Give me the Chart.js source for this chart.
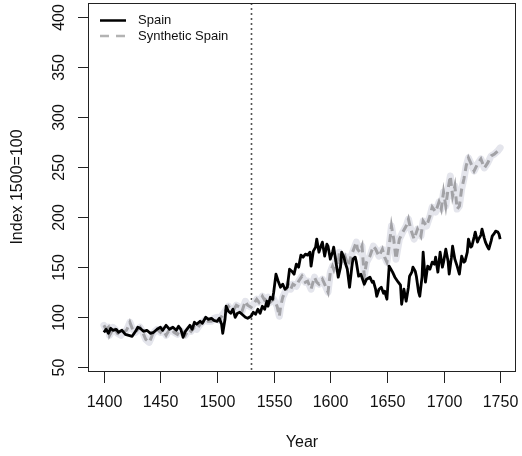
<!DOCTYPE html>
<html>
<head>
<meta charset="utf-8">
<script src="https://cdn.jsdelivr.net/npm/chart.js@4.4.1/dist/chart.umd.min.js"></script>
<style>
  html, body { margin: 0; padding: 0; background: #fff; }
  #wrap { width: 522px; height: 456px; }
</style>
</head>
<body>
<div id="wrap"><canvas id="myChart" width="522" height="456"></canvas></div>
<script>
// values (year, index)
const spainYears = [1400,1402,1404,1406,1408,1411,1413,1416,1419,1422,1425,1428,1430,1432,1435,1438,1441,1444,1447,1450,1452,1455,1458,1461,1464,1466,1468,1470,1472,1474,1476,1478,1480,1482,1485,1487,1490,1492,1495,1497,1500,1502,1504,1505,1507,1508,1510,1512,1514,1516,1518,1520,1522,1525,1527,1530,1532,1534,1536,1538,1540,1542,1544,1545,1547,1549,1550,1552,1554,1556,1558,1560,1562,1564,1566,1568,1570,1572,1574,1576,1578,1580,1582,1583,1585,1587,1588,1590,1592,1593,1595,1597,1598,1600,1602,1603,1605,1607,1609,1610,1612,1613,1615,1617,1619,1620,1622,1623,1625,1627,1630,1632,1635,1637,1638,1640,1641,1643,1645,1647,1648,1650,1652,1654,1655,1657,1660,1662,1663,1665,1667,1669,1670,1672,1673,1675,1676,1678,1679,1681,1682,1684,1686,1688,1690,1692,1693,1695,1697,1699,1700,1702,1704,1705,1707,1708,1710,1712,1714,1716,1718,1719,1721,1722,1724,1725,1727,1728,1730,1731,1733,1734,1736,1737,1739,1740,1742,1743,1745,1746,1748,1749,1750];
const spainValues = [85,88,84,89,87,88,85,87,83,82,81,86,90,89,86,87,84,85,88,90,87,92,88,90,87,91,88,80,86,89,92,88,95,93,96,94,100,98,99,97,96,99,93,84,98,111,106,104,108,100,104,105,103,100,99,101,105,103,108,104,111,108,116,111,120,118,125,143,136,130,133,128,130,148,146,143,153,150,162,160,163,162,165,151,166,170,178,165,172,175,161,173,171,158,165,170,155,140,150,165,160,155,148,130,150,158,160,155,141,143,133,138,140,135,136,128,121,128,130,124,126,118,151,147,145,140,135,132,113,128,116,130,141,145,150,146,141,125,121,140,165,135,151,148,155,153,160,145,165,150,155,168,156,143,160,171,158,151,143,161,155,156,165,178,170,171,180,185,175,178,182,188,179,175,170,168,176,181,184,186,185,183,178];

const synthYears = [1400,1402,1404,1405,1407,1408,1410,1412,1415,1417,1420,1422,1423,1425,1428,1430,1432,1434,1437,1440,1442,1443,1445,1447,1450,1452,1455,1457,1460,1462,1465,1467,1470,1472,1475,1477,1480,1482,1485,1487,1490,1492,1495,1497,1500,1502,1505,1507,1510,1512,1515,1517,1520,1522,1525,1527,1530,1532,1535,1537,1540,1542,1545,1547,1550,1553,1555,1556,1558,1560,1563,1565,1567,1570,1572,1575,1578,1580,1583,1586,1588,1590,1593,1595,1598,1600,1602,1603,1605,1607,1608,1610,1613,1616,1618,1620,1623,1624,1626,1628,1630,1632,1635,1638,1640,1643,1646,1648,1650,1652,1654,1656,1658,1661,1664,1667,1669,1671,1674,1677,1680,1682,1685,1688,1690,1693,1696,1698,1700,1702,1704,1706,1708,1710,1712,1714,1716,1718,1720,1722,1724,1727,1730,1733,1736,1739,1742,1745,1748,1750];
const synthValues = [92,88,90,82,86,90,88,84,82,85,87,92,95,89,85,88,90,86,78,75,80,83,86,88,85,88,82,86,88,85,83,87,85,82,88,86,90,88,93,95,98,96,96,99,100,97,103,106,111,108,108,112,110,106,116,112,110,113,118,115,121,117,120,115,118,111,101,110,120,125,133,128,133,131,136,141,135,136,128,140,135,133,138,133,125,145,151,148,158,152,165,155,161,151,160,166,175,168,165,171,141,155,161,171,168,161,168,160,155,171,191,178,158,178,185,191,198,188,178,188,181,196,191,201,210,205,215,208,225,211,228,241,221,231,208,211,228,238,251,259,254,246,253,258,249,254,261,263,266,269];

const xTicks = [1400,1450,1500,1550,1600,1650,1700,1750];
const yTicks = [50,100,150,200,250,300,350,400];
const treatmentYear = 1530;
const seriesNames = ['Spain', 'Synthetic Spain'];

const FONT = '"Liberation Sans", Arial, Helvetica, sans-serif';

function pairs(xs, ys) {
  return xs.map((x, i) => ({ x: x, y: ys[i] }));
}

// R-style axes, box, reference line and legend drawn with the chart's scales
const rAxes = {
  id: 'rAxes',
  beforeDatasetsDraw(chart) {
    const { ctx, chartArea: a, scales: { x } } = chart;
    const px = Math.round(x.getPixelForValue(treatmentYear)) + 0.5;
    ctx.save();
    ctx.strokeStyle = '#555';
    ctx.lineWidth = 1.6;
    ctx.setLineDash([2, 3]);
    ctx.beginPath();
    ctx.moveTo(px, a.top);
    ctx.lineTo(px, a.bottom);
    ctx.stroke();
    ctx.restore();
  },
  afterDraw(chart) {
    const { ctx, chartArea: a, scales: { x, y } } = chart;
    ctx.save();
    ctx.strokeStyle = '#222';
    ctx.lineWidth = 1;
    ctx.strokeRect(a.left + 0.5, a.top + 0.5, a.right - a.left - 1, a.bottom - a.top);

    ctx.fillStyle = '#111';
    ctx.font = '16px ' + FONT;

    // x axis
    ctx.textAlign = 'center';
    ctx.textBaseline = 'middle';
    xTicks.forEach(t => {
      const px = Math.round(x.getPixelForValue(t)) + 0.5;
      ctx.beginPath();
      ctx.moveTo(px, a.bottom);
      ctx.lineTo(px, a.bottom + 12);
      ctx.stroke();
      ctx.fillText(String(t), px, a.bottom + 32);
    });
    ctx.fillText('Year', (a.left + a.right) / 2, a.bottom + 72);

    // y axis
    yTicks.forEach(t => {
      const py = Math.round(y.getPixelForValue(t)) + 0.5;
      ctx.beginPath();
      ctx.moveTo(a.left, py);
      ctx.lineTo(a.left - 10, py);
      ctx.stroke();
      ctx.save();
      ctx.translate(a.left - 28, py);
      ctx.rotate(-Math.PI / 2);
      ctx.fillText(String(t), 0, 0);
      ctx.restore();
    });
    ctx.save();
    ctx.translate(18, (a.top + a.bottom) / 2);
    ctx.rotate(-Math.PI / 2);
    ctx.fillText('Index 1500=100', 0, 0);
    ctx.restore();

    // legend
    ctx.font = '13px ' + FONT;
    ctx.textAlign = 'left';
    ctx.lineWidth = 2.5;
    ctx.strokeStyle = '#000';
    ctx.beginPath();
    ctx.moveTo(100, 20.5);
    ctx.lineTo(126, 20.5);
    ctx.stroke();
    ctx.fillText(seriesNames[0], 138, 20.5);
    ctx.strokeStyle = '#b3b3b3';
    ctx.setLineDash([9, 7]);
    ctx.beginPath();
    ctx.moveTo(100, 36);
    ctx.lineTo(126, 36);
    ctx.stroke();
    ctx.setLineDash([]);
    ctx.fillText(seriesNames[1], 138, 36);
    ctx.restore();
  }
};

new Chart(document.getElementById('myChart'), {
  type: 'line',
  data: {
    datasets: [
      {
        label: 'band',
        order: 3,
        data: pairs(synthYears, synthValues),
        borderColor: '#e4e5ec',
        borderWidth: 7,
        borderJoinStyle: 'round',
        borderCapStyle: 'round',
        pointRadius: 0,
        tension: 0
      },
      {
        label: seriesNames[1],
        order: 2,
        data: pairs(synthYears, synthValues),
        borderColor: '#a2a2a6',
        borderWidth: 3,
        borderDash: [8, 5],
        pointRadius: 0,
        tension: 0
      },
      {
        label: seriesNames[0],
        order: 1,
        data: pairs(spainYears, spainValues),
        borderColor: '#000',
        borderWidth: 2.8,
        borderJoinStyle: 'round',
        pointRadius: 0,
        tension: 0
      }
    ]
  },
  options: {
    responsive: false,
    animation: false,
    events: [],
    layout: { padding: { left: 88, right: 6, top: 3, bottom: 85 } },
    plugins: { legend: { display: false }, tooltip: { enabled: false } },
    scales: {
      x: { type: 'linear', min: 1386, max: 1764, display: false },
      y: { type: 'linear', min: 46.4, max: 413.6, display: false }
    }
  },
  plugins: [rAxes]
});
</script>
</body>
</html>
